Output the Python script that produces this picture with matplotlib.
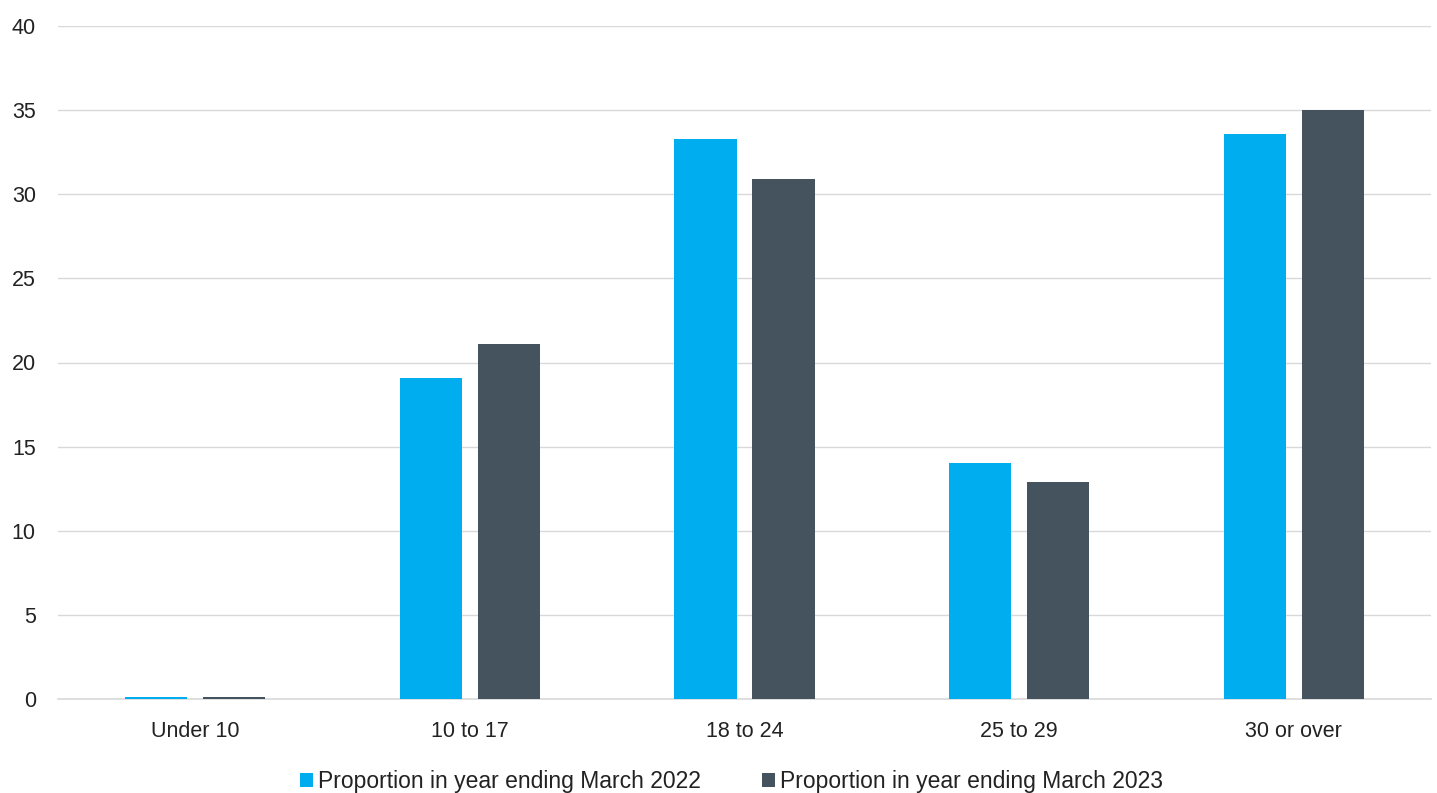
import numpy as np
import matplotlib.pyplot as plt

categories = ['Under 10', '10 to 17', '18 to 24', '25 to 29', '30 or over']
prop_2022 = [0.1, 19.1, 33.3, 14.0, 33.6]
prop_2023 = [0.1, 21.1, 30.9, 12.9, 35.0]
labels = ['Proportion in year ending March 2022', 'Proportion in year ending March 2023']

plt.rcParams['font.family'] = ['Liberation Sans', 'DejaVu Sans']

fig = plt.figure(figsize=(14.37, 7.93), dpi=100)
ax = fig.add_axes([58 / 1437, 1 - 699 / 793, (1431 - 58) / 1437, (699 - 26) / 793])

x = np.arange(len(categories))
w = 0.226
off = 0.142
ax.bar(x - off, prop_2022, w, color='#00AEEF', label=labels[0], zorder=3)
ax.bar(x + off, prop_2023, w, color='#44535E', label=labels[1], zorder=3)

ax.set_xlim(-0.5, len(categories) - 0.5)
ax.set_ylim(0, 40)
ax.set_yticks(range(0, 41, 5))
ax.set_xticks(x)
ax.set_xticklabels(categories)
ax.grid(axis='y', color='#d9d9d9', linewidth=1, zorder=0)
for s in ['top', 'right', 'left']:
    ax.spines[s].set_visible(False)
ax.spines['bottom'].set_color('#d9d9d9')
ax.spines['bottom'].set_linewidth(1.2)
ax.tick_params(axis='both', length=0, labelsize=15.5, colors='#222222')
ax.tick_params(axis='x', pad=16)
ax.tick_params(axis='y', pad=16)

ax.legend(loc='upper center', bbox_to_anchor=(0.4905, -0.089), ncol=2, frameon=False,
          fontsize=16.5, handlelength=0.55, handleheight=0.55, handletextpad=0.2,
          columnspacing=2.7, labelcolor='#222222', borderpad=0)

fig.savefig('out.png', dpi=100)
